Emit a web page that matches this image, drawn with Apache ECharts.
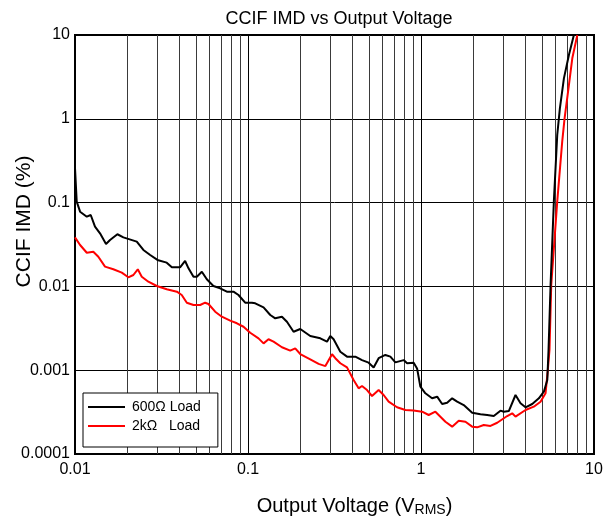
<!DOCTYPE html>
<html>
<head>
<meta charset="utf-8">
<script src="https://cdn.jsdelivr.net/npm/echarts@6/dist/echarts.min.js"></script>
<style>
  html, body { margin: 0; padding: 0; background: #fff; }
  #chart { width: 609px; height: 521px; }
</style>
</head>
<body>
<div id="chart"></div>
<script>
// CCIF intermodulation distortion vs output voltage, two load conditions.

// 600 Ohm load: output voltage (Vrms) and IMD (%)
const volts600 = [
  0.01, 0.01023, 0.0107, 0.0117, 0.01233, 0.01305, 0.01395, 0.01511, 0.01594, 0.01758,
  0.01904, 0.02275, 0.02485, 0.0272, 0.02995, 0.0339, 0.0363, 0.0405, 0.0433, 0.0453,
  0.0484, 0.0506, 0.0541, 0.0578, 0.0631, 0.069, 0.0755, 0.0824, 0.0881, 0.0963,
  0.1053, 0.1101, 0.123, 0.1345, 0.1437, 0.1571, 0.1679, 0.1834, 0.2005, 0.229,
  0.2618, 0.2862, 0.299, 0.3125, 0.3417, 0.3735, 0.4173, 0.4561, 0.4982, 0.5325,
  0.5691, 0.6223, 0.6651, 0.711, 0.794, 0.831, 0.907, 0.949, 0.992, 1.06,
  1.159, 1.24, 1.325, 1.416, 1.514, 1.618, 1.766, 1.976, 2.207, 2.413,
  2.634, 2.88, 3.01, 3.218, 3.518, 3.761, 4.02, 4.395, 4.8, 5.13,
  5.37, 5.46, 5.61, 5.86, 6.13, 6.35, 6.7, 7.16, 7.65
];
const imd600 = [
  0.259, 0.1026, 0.0779, 0.0679, 0.0711, 0.0516, 0.043, 0.0321, 0.0358, 0.0419,
  0.0385, 0.0342, 0.0272, 0.0237, 0.0207, 0.0192, 0.0169, 0.0169, 0.0201, 0.01644,
  0.01305, 0.01305, 0.01497, 0.01215, 0.01011, 0.00949, 0.00865, 0.00865, 0.0079, 0.00639,
  0.00639, 0.00628, 0.00563, 0.00456, 0.00416, 0.00435, 0.00379, 0.00288, 0.0031, 0.00256,
  0.0024, 0.00219, 0.00256, 0.00234, 0.00166, 0.00145, 0.00145, 0.00132, 0.00123, 0.00108,
  0.00139, 0.00152, 0.00145, 0.00124, 0.00132, 0.00121, 0.00123, 0.00105, 0.000635, 0.00053,
  0.000462, 0.000483, 0.000395, 0.000409, 0.000462, 0.000421, 0.000384, 0.000311, 0.000298, 0.000292,
  0.000284, 0.000329, 0.00032, 0.000325, 0.000506, 0.000403, 0.000361, 0.000395, 0.000462, 0.000554,
  0.000764, 0.00174, 0.0104, 0.1026, 0.641, 1.335, 3.04, 5.77, 10
];

// 2 kOhm load
const volts2k = [
  0.01, 0.0107, 0.0117, 0.01276, 0.01364, 0.01491, 0.01666, 0.01864, 0.02034, 0.02175,
  0.02306, 0.02432, 0.02655, 0.0297, 0.0339, 0.0388, 0.0414, 0.0443, 0.0484, 0.0529,
  0.0565, 0.0591, 0.0646, 0.0706, 0.0789, 0.0863, 0.0942, 0.103, 0.115, 0.123,
  0.1314, 0.1405, 0.1571, 0.1754, 0.1875, 0.2005, 0.229, 0.256, 0.28, 0.306,
  0.3197, 0.3417, 0.3735, 0.4078, 0.436, 0.456, 0.4876, 0.521, 0.569, 0.608,
  0.65, 0.727, 0.812, 0.904, 1.015, 1.108, 1.211, 1.384, 1.514, 1.653,
  1.807, 1.976, 2.112, 2.306, 2.521, 2.757, 3.15, 3.367, 3.518, 4.02,
  4.488, 4.909, 5.247, 5.41, 5.53, 5.66, 6.13, 6.55, 6.76, 7.16,
  7.49, 8.01
];
const imd2k = [
  0.0385, 0.0312, 0.0252, 0.0259, 0.0226, 0.0172, 0.016, 0.01458, 0.01284, 0.01368,
  0.016, 0.01305, 0.01138, 0.01011, 0.00924, 0.00865, 0.0079, 0.00639, 0.006, 0.006,
  0.00639, 0.00617, 0.00499, 0.00435, 0.0039, 0.00363, 0.0033, 0.0028, 0.0024, 0.00209,
  0.00234, 0.00219, 0.00188, 0.00171, 0.00182, 0.00156, 0.00135, 0.00119, 0.00112, 0.00155,
  0.00139, 0.00121, 0.00108, 0.000764, 0.000608, 0.000648, 0.00058, 0.000492, 0.00058, 0.000506,
  0.000421, 0.000361, 0.000335, 0.00033, 0.00032, 0.000292, 0.00032, 0.000243, 0.000212, 0.00025,
  0.000243, 0.000212, 0.000208, 0.000222, 0.000216, 0.000236, 0.000284, 0.000306, 0.000279, 0.000335,
  0.000367, 0.000421, 0.00053, 0.00101, 0.00174, 0.0104, 0.1026, 0.533, 1.014, 2.53,
  5.27, 10
];

const seriesNames = ['600Ω Load', '2kΩ   Load'];
const xTickLabels = ['0.01', '0.1', '1', '10'];
const yTickLabels = ['0.0001', '0.001', '0.01', '0.1', '1', '10'];

// vertical grid lines at 2..9 within each decade
const minorGridX = [];
[0.01, 0.1, 1].forEach(d => {
  for (let k = 2; k <= 9; k++) minorGridX.push(+(d * k).toPrecision(3));
});

const pairs = (xs, ys) => xs.map((x, i) => [x, ys[i]]);
const FONT = '"Liberation Sans", Arial, Helvetica, sans-serif';

const chart = echarts.init(document.getElementById('chart'), null, { renderer: 'canvas' });
chart.setOption({
  animation: false,
  backgroundColor: '#fff',
  textStyle: { fontFamily: FONT, color: '#000' },
  title: {
    text: 'CCIF IMD vs Output Voltage',
    left: 334, top: 5, textAlign: 'center',
    textStyle: { fontFamily: FONT, fontSize: 18, fontWeight: 'normal', color: '#000' }
  },
  grid: {
    left: 75, right: 15, top: 35, bottom: 67,
    containLabel: false, outerBoundsMode: 'none',
    show: true, borderColor: '#000', borderWidth: 2, backgroundColor: 'transparent'
  },
  legend: {
    orient: 'vertical', left: 83, top: 393,
    backgroundColor: '#fff', borderColor: '#000', borderWidth: 1,
    padding: [7, 17, 14, 5], itemGap: 5,
    itemWidth: 37, itemHeight: 2, icon: 'rect',
    textStyle: { fontFamily: FONT, fontSize: 14, color: '#000', padding: [0, 0, 0, 2] },
    data: seriesNames
  },
  xAxis: {
    type: 'log', logBase: 10, min: 0.01, max: 10,
    name: '{a|Output Voltage (V}{s|RMS}{a|)}',
    nameLocation: 'middle', nameGap: 40, nameMoveOverlap: false,
    nameTextStyle: {
      padding: [0, 0, 0, 40],
      rich: {
        a: { fontFamily: FONT, fontSize: 20, color: '#000', lineHeight: 24 },
        s: { fontFamily: FONT, fontSize: 14, color: '#000', lineHeight: 24, padding: [9, 0, 0, 0] }
      }
    },
    axisLine: { show: true, lineStyle: { color: '#000', width: 2 } },
    axisTick: { show: false },
    axisLabel: {
      fontFamily: FONT, fontSize: 16, color: '#000', margin: 8,
      formatter: v => xTickLabels[Math.round(Math.log10(v)) + 2]
    },
    splitLine: { show: true, lineStyle: { color: '#000', width: 1 } }
  },
  yAxis: {
    type: 'log', logBase: 10, min: 0.0001, max: 10,
    name: 'CCIF IMD (%)',
    nameLocation: 'middle', nameGap: 40, nameRotate: 90, nameMoveOverlap: false,
    nameTextStyle: { fontFamily: FONT, fontSize: 21, color: '#000', padding: [0, 0, 0, 46] },
    axisLine: { show: true, lineStyle: { color: '#000', width: 2 } },
    axisTick: { show: false },
    axisLabel: {
      fontFamily: FONT, fontSize: 16, color: '#000', margin: 5,
      formatter: v => yTickLabels[Math.round(Math.log10(v)) + 4]
    },
    splitLine: { show: true, lineStyle: { color: '#000', width: 1 } }
  },
  series: [
    {
      name: seriesNames[0], type: 'line', data: pairs(volts600, imd600),
      showSymbol: false, symbol: 'none', clip: true, z: 4,
      lineStyle: { color: '#000', width: 2 }, itemStyle: { color: '#000' },
      markLine: {
        silent: true, symbol: ['none', 'none'], z: 1,
        label: { show: false },
        lineStyle: { color: '#3a3a3a', width: 1, type: 'solid' },
        emphasis: { disabled: true },
        data: minorGridX.map(v => ({ xAxis: v }))
      }
    },
    {
      name: seriesNames[1], type: 'line', data: pairs(volts2k, imd2k),
      showSymbol: false, symbol: 'none', clip: true, z: 3,
      lineStyle: { color: '#ff0000', width: 2 }, itemStyle: { color: '#ff0000' }
    }
  ]
});
</script>
</body>
</html>
